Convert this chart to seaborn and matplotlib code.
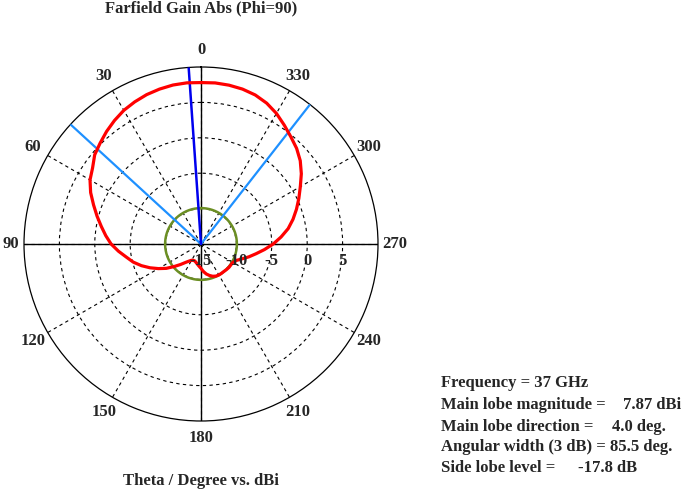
import numpy as np
import pandas as pd
import matplotlib
matplotlib.use('Agg')
import matplotlib.pyplot as plt
import seaborn as sns

# farfield cut, phi = 90 (5 deg steps)
theta_deg = list(range(0, 360, 5))
gain_dbi = [7.80, 7.85, 7.80, 7.65, 7.45, 7.15, 6.80, 6.30, 5.75, 5.15,
            4.60, 3.70, 3.10, 2.20, 1.15, 0.20, -0.70, -1.50, -2.30, -3.30,
            -4.30, -5.10, -6.05, -7.05, -8.05, -9.00, -10.05, -10.90, -11.60, -12.05,
            -12.35, -12.45, -12.45, -12.30, -12.10, -11.85, -11.55, -11.10, -10.70, -10.40,
            -10.15, -10.00, -9.95, -9.95, -9.95, -9.90, -9.85, -9.85, -9.80, -9.50,
            -8.85, -8.00, -7.10, -6.00, -4.80, -3.65, -2.50, -1.55, -0.65, 0.25,
            1.20, 2.30, 3.30, 4.10, 4.75, 5.50, 6.30, 6.95, 7.40, 7.65,
            7.78, 7.84]

main_lobe_mag = 7.87      # dBi
main_lobe_dir = 4.0       # deg
beam_edges = [47.5, 322.0]  # 3 dB points, width 85.5 deg
side_lobe_level = -17.8   # dB rel. to main lobe

angle_labels = [0, 30, 60, 90, 120, 150, 180, 210, 240, 270, 300, 330]
r_ticks = [-15, -10, -5, 0, 5]
r_min, r_max = -15, 10

info_labels = ['Main lobe magnitude =', 'Main lobe direction =', 'Angular width (3 dB) =', 'Side lobe level =']
info_values = ['7.87 dBi', '4.0 deg.', '85.5 deg.', '-17.8 dB']

sns.set_theme(style='white')
plt.rcParams['font.family'] = ['Liberation Serif', 'DejaVu Serif']
plt.rcParams['font.weight'] = 'bold'

W, H = 685, 492
cx, cy, R = 201, 244, 177

fig = plt.figure(figsize=(W / 100, H / 100), dpi=100)
fig.patch.set_facecolor('white')
ax = fig.add_axes([(cx - R) / W, (H - cy - R) / H, 2 * R / W, 2 * R / H], projection='polar')
ax.set_facecolor('white')
ax.set_theta_zero_location('N')
ax.set_theta_direction(1)
ax.set_ylim(r_min, r_max)

# grid: dashed rings + spokes every 30 deg
ax.set_xticks(np.deg2rad(angle_labels))
ax.set_xticklabels([])
ax.set_yticks(r_ticks[1:])
ax.set_yticklabels([])
ax.grid(True, color='black', lw=0.8, ls=(0, (3, 3)))
ax.tick_params(length=0)
ax.spines['polar'].set_color('black')
ax.spines['polar'].set_linewidth(0.9)

# solid main axes
for a in [0, 90, 180, 270]:
    ax.plot([np.deg2rad(a)] * 2, [r_min, r_max], color='black', lw=1.0, zorder=2)

# side lobe level circle
sll = main_lobe_mag + side_lobe_level
circ = np.linspace(0, 2 * np.pi, 300)
ax.plot(circ, np.full_like(circ, sll), color='#6b8e23', lw=1.8, zorder=3)

# 3 dB beam edges and main lobe direction
for e in beam_edges:
    ax.plot([np.deg2rad(e)] * 2, [r_min, r_max], color='#1e90ff', lw=1.6, zorder=4)
ax.plot([np.deg2rad(main_lobe_dir)] * 2, [r_min, r_max], color='#0000ee', lw=1.8, zorder=5)

# pattern
df = pd.DataFrame({'theta': np.deg2rad(theta_deg + [360]), 'gain': gain_dbi + [gain_dbi[0]]})
sns.lineplot(data=df, x='theta', y='gain', ax=ax, sort=False, estimator=None,
             color='#ff0000', lw=2.3, zorder=6)
ax.set_xlabel('')
ax.set_ylabel('')

fs = 12
px_per_db = R / (r_max - r_min)
for a in angle_labels:
    dist = 190 if a == 90 else 194
    ax.text(np.deg2rad(a), r_min + dist / px_per_db, str(a), ha='center', va='center',
            fontsize=fs, fontweight='bold', clip_on=False)

for r in r_ticks:
    ax.annotate(str(r), xy=(np.deg2rad(270), r), xytext=(0, -17), textcoords='offset pixels',
                ha='center', va='center', fontsize=fs, fontweight='bold', zorder=7)

fig.text(cx / W, 1 - 8 / H, 'Farfield Gain Abs (Phi=90)', ha='center', va='center',
         fontsize=fs, fontweight='bold')
fig.text(cx / W, 1 - 481 / H, 'Theta / Degree vs. dBi', ha='center', va='center',
         fontsize=fs, fontweight='bold')

fig.text(441 / W, 1 - 383 / H, 'Frequency = 37 GHz', ha='left', va='center',
         fontsize=fs, fontweight='bold')
line_y = [405, 427, 447, 468]
value_x = [623, 612, 610, 578]
for lbl, val, y, vx in zip(info_labels, info_values, line_y, value_x):
    fig.text(441 / W, 1 - y / H, lbl, ha='left', va='center', fontsize=fs, fontweight='bold')
    fig.text(vx / W, 1 - y / H, val, ha='left', va='center', fontsize=fs, fontweight='bold')

fig.savefig('out.png', dpi=100, facecolor='white')
